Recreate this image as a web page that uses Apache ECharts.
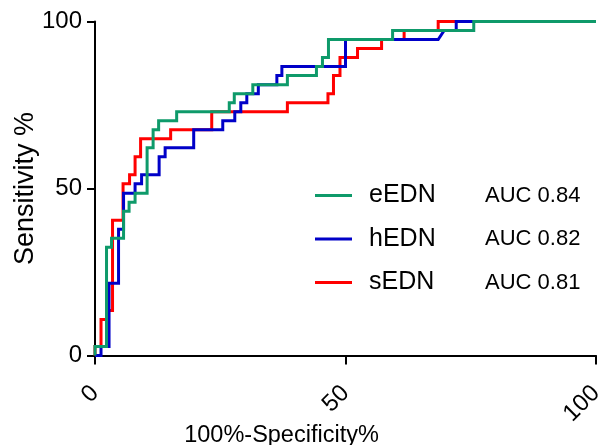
<!DOCTYPE html>
<html style="height: 100%;">
<head>
<meta charset="utf-8">
<title>ROC</title>
<script src="https://cdn.jsdelivr.net/npm/echarts@6/dist/echarts.min.js"></script>
</head>
<body style="height: 100%; margin: 0; background: #fff;">
<div id="container" style="width: 602px; height: 445px;"></div>
<script type="text/javascript">
// ROC points: [100%-Specificity%, Sensitivity %]
var eednPts = [[0,0],[0,2.7],[2.3,2.7],[2.3,32.4],[3.3,32.4],[3.3,35.1],[5.7,35.1],[5.7,43.2],[6.8,43.2],[6.8,45.9],[8.0,45.9],[8.0,48.6],[10.4,48.6],[10.4,62.2],[11.6,62.2],[11.6,67.6],[12.7,67.6],[12.7,70.3],[16.3,70.3],[16.3,73.0],[26.8,73.0],[26.8,75.7],[27.8,75.7],[27.8,78.4],[31.5,78.4],[31.5,81.1],[38.4,81.1],[38.4,83.8],[44.2,83.8],[44.2,86.5],[45.4,86.5],[45.4,89.2],[46.6,89.2],[46.6,94.6],[59.4,94.6],[59.4,97.3],[75.6,97.3],[75.6,100],[100,100]];
var hednPts = [[0,0],[1.2,0],[1.2,2.7],[2.8,2.7],[2.8,21.6],[4.7,21.6],[4.7,37.8],[5.7,37.8],[5.7,48.6],[8.0,48.6],[8.0,51.4],[9.3,51.4],[9.3,54.1],[12.8,54.1],[12.8,59.5],[14.0,59.5],[14.0,62.2],[19.7,62.2],[19.7,67.6],[25.5,67.6],[25.5,70.3],[27.9,70.3],[27.9,73.0],[29.1,73.0],[29.1,75.7],[30.3,75.7],[30.3,78.4],[32.6,78.4],[32.6,81.1],[36.3,81.1],[36.3,83.8],[37.3,83.8],[37.3,86.5],[50.0,86.5],[50.0,94.6],[68.5,94.6],[69.7,97.3],[72.1,97.3],[72.1,100],[100,100]];
var sednPts = [[0,0],[0,2.7],[1.2,2.7],[1.2,10.8],[2.6,10.8],[2.6,13.5],[3.5,13.5],[3.5,40.5],[5.6,40.5],[5.6,51.4],[6.9,51.4],[6.9,54.1],[8.0,54.1],[8.0,59.5],[9.1,59.5],[9.1,64.9],[15.1,64.9],[15.1,67.6],[23.3,67.6],[23.3,73.0],[38.4,73.0],[38.4,75.7],[46.5,75.7],[46.5,78.4],[47.6,78.4],[47.6,83.8],[48.9,83.8],[48.9,89.2],[52.4,89.2],[52.4,91.9],[57.2,91.9],[57.2,94.6],[61.7,94.6],[61.7,97.3],[68.5,97.3],[68.5,100],[100,100]];

var names = ['eEDN', 'hEDN', 'sEDN'];
var aucs = ['0.84', '0.82', '0.81'];
var colors = ['#0e9a6a', '#0000c8', '#ff0000'];
var curves = [eednPts, hednPts, sednPts];

var font = 'Liberation Sans, Arial, sans-serif';

var dom = document.getElementById('container');
var myChart = echarts.init(dom);

// draw red first, then blue, then green on top
var series = [];
for (var i = curves.length - 1; i >= 0; i--) {
    series.push({
        name: names[i],
        type: 'line',
        data: curves[i],
        showSymbol: false,
        clip: false,
        color: colors[i],
        lineStyle: { width: 3, color: colors[i], join: 'miter' },
        animation: false
    });
}

var option = {
    backgroundColor: '#fff',
    grid: { left: 95, right: 6, top: 21.5, bottom: 89.5, containLabel: false, outerBoundsMode: 'none' },
    legend: {
        data: names,
        orient: 'vertical',
        left: 310,
        top: 178,
        icon: 'rect',
        itemWidth: 37,
        itemHeight: 3,
        itemGap: 18.5,
        formatter: function (name) {
            var k = names.indexOf(name);
            return '{n|' + name + '}{a|AUC ' + aucs[k] + '}';
        },
        textStyle: {
            rich: {
                n: { fontFamily: font, fontSize: 25, color: '#000', width: 116, padding: [0, 0, 0, 12], lineHeight: 30 },
                a: { fontFamily: font, fontSize: 22, color: '#000', lineHeight: 30 }
            }
        }
    },
    xAxis: {
        type: 'value',
        min: 0, max: 100, interval: 50,
        name: '100%-Specificity%',
        nameLocation: 'middle',
        nameGap: 68,
        nameMoveOverlap: false,
        nameTextStyle: { fontFamily: font, fontSize: 23.5, color: '#000', padding: [0, 128, 0, 0] },
        axisLine: { onZero: false, lineStyle: { color: '#000', width: 2 } },
        axisTick: { length: 9, lineStyle: { color: '#000', width: 2 } },
        axisLabel: { rotate: 45, margin: 34, fontFamily: font, fontSize: 24, color: '#000' },
        splitLine: { show: false }
    },
    yAxis: {
        type: 'value',
        min: 0, max: 100, interval: 50,
        name: 'Sensitivity %',
        nameLocation: 'middle',
        nameGap: 56,
        nameMoveOverlap: false,
        nameTextStyle: { fontFamily: font, fontSize: 27, color: '#000' },
        axisLine: { show: true, onZero: false, lineStyle: { color: '#000', width: 2 } },
        axisTick: { show: true, length: 8, lineStyle: { color: '#000', width: 2 } },
        axisLabel: { margin: 13, fontFamily: font, fontSize: 24, color: '#000' },
        splitLine: { show: false }
    },
    series: series
};

myChart.setOption(option);
</script>
</body>
</html>
